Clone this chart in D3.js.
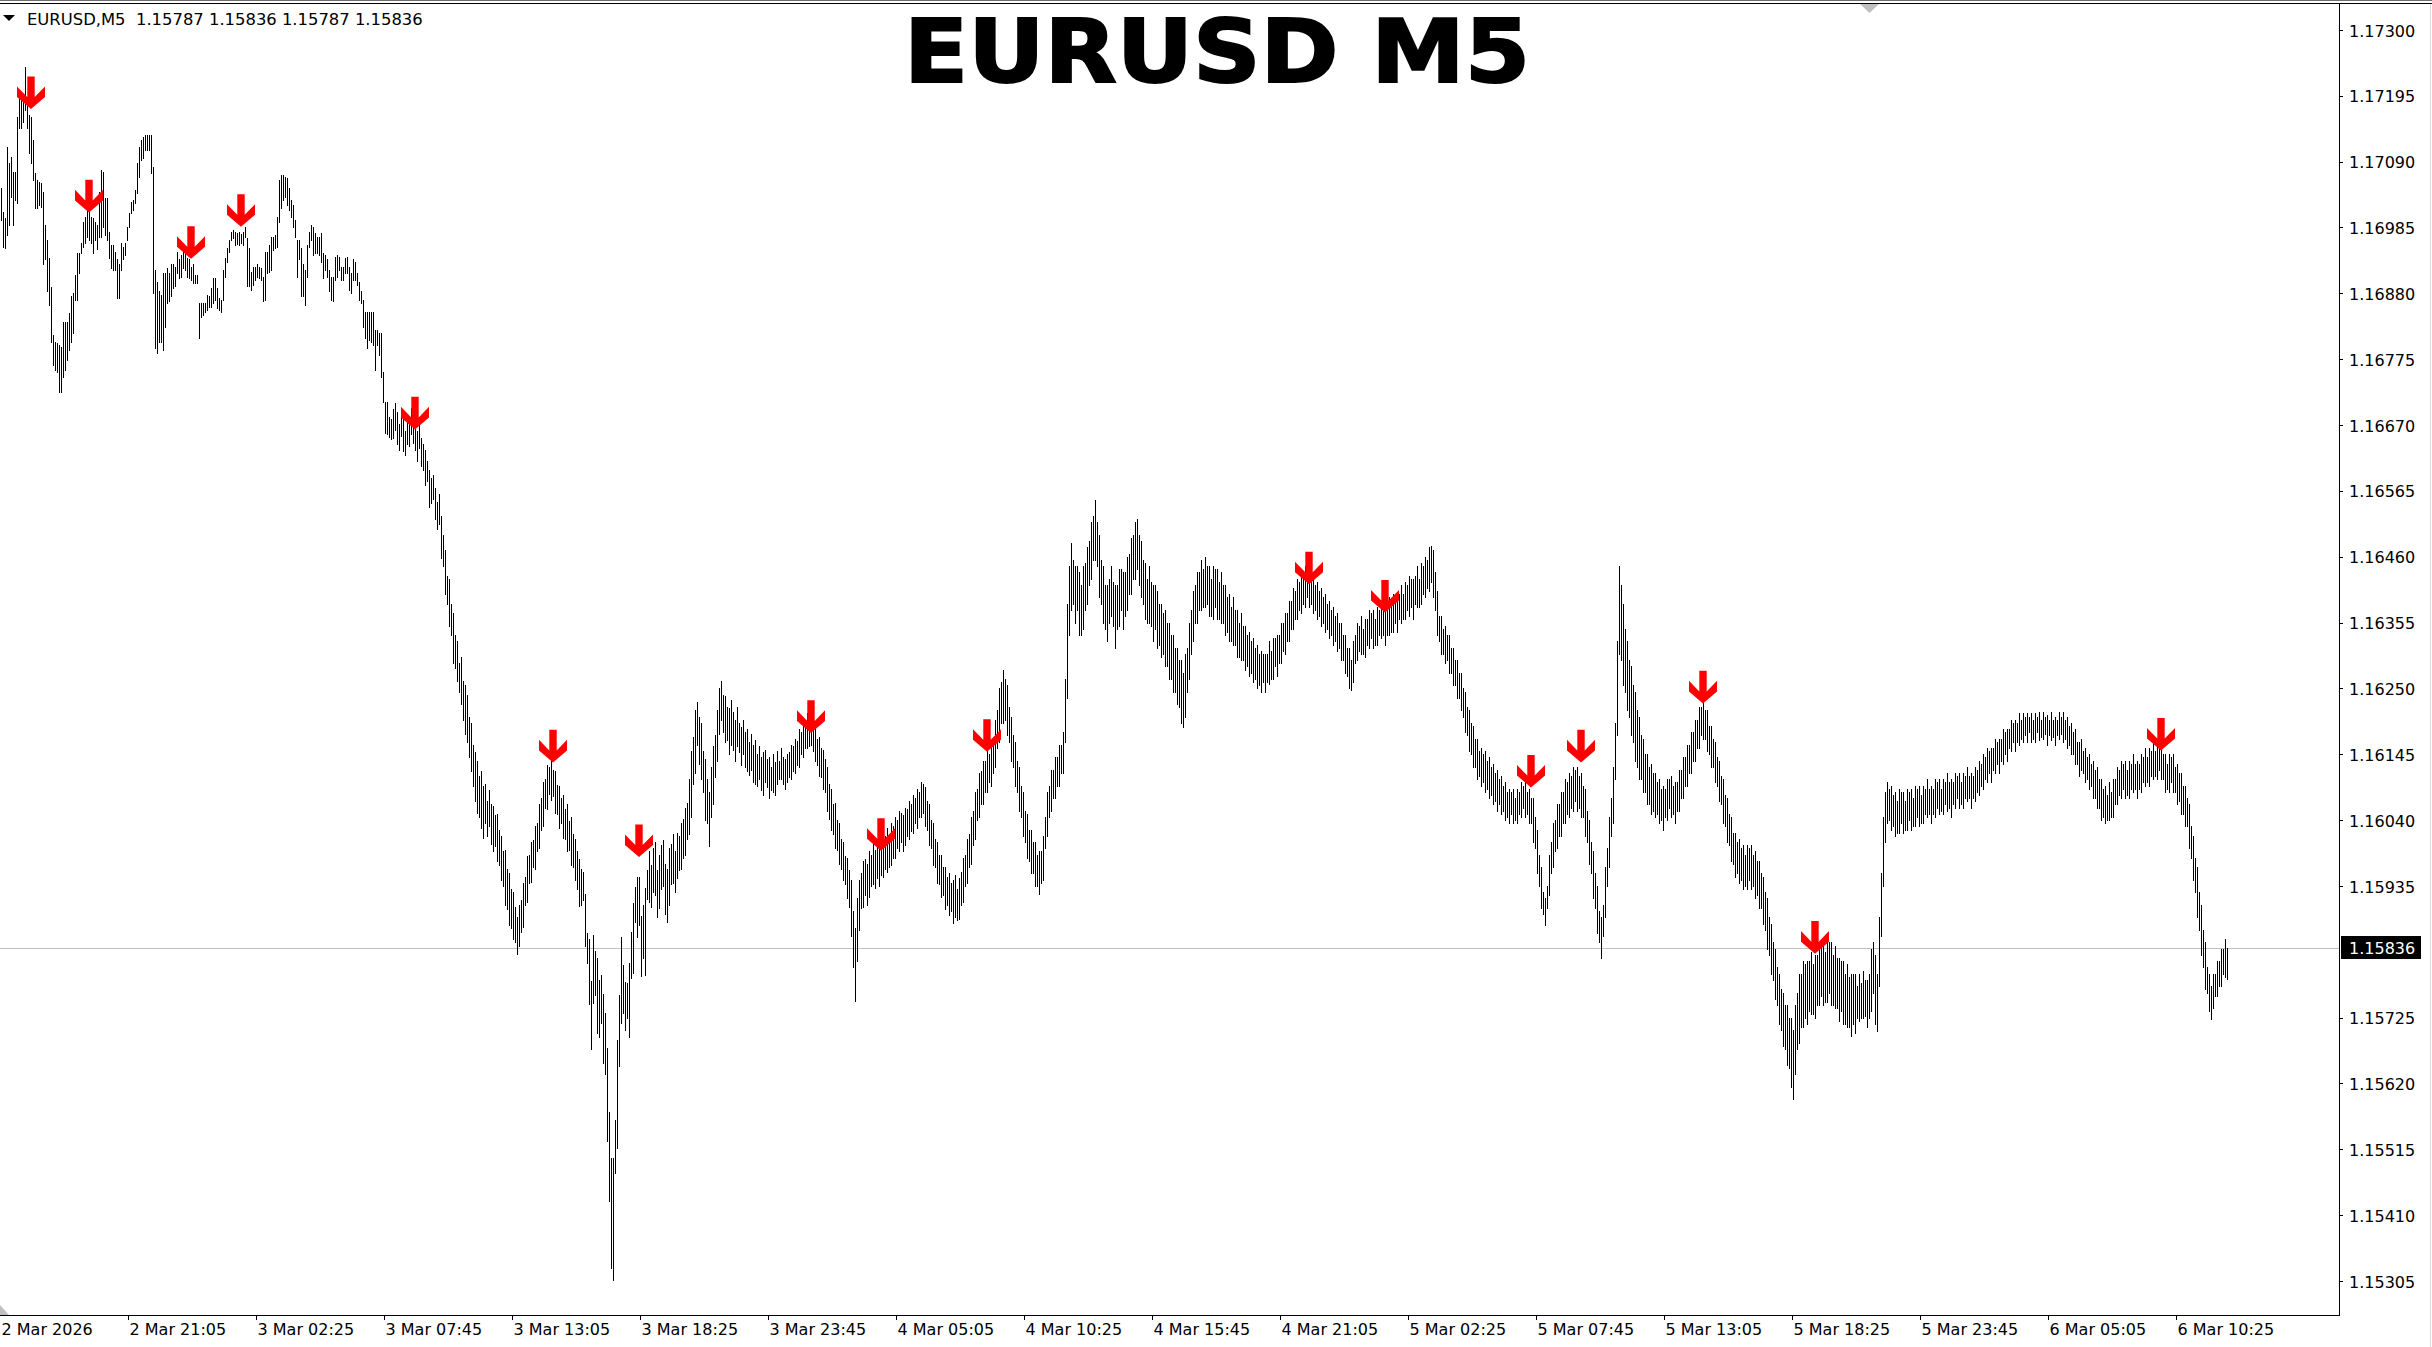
<!DOCTYPE html>
<html><head><meta charset="utf-8">
<script src="https://cdn.jsdelivr.net/npm/d3@7/dist/d3.min.js"></script>
<style>html,body{margin:0;padding:0;background:#fff;overflow:hidden}</style>
</head><body>
<script>
// ---------------- DATA ----------------
const symbolText = "EURUSD,M5";
const headerPrices = ["1.15787", "1.15836", "1.15787", "1.15836"];
const titleText = "EURUSD M5";
const timeLabels = ["2 Mar 2026","2 Mar 21:05","3 Mar 02:25","3 Mar 07:45","3 Mar 13:05","3 Mar 18:25","3 Mar 23:45","4 Mar 05:05","4 Mar 10:25","4 Mar 15:45","4 Mar 21:05","5 Mar 02:25","5 Mar 07:45","5 Mar 13:05","5 Mar 18:25","5 Mar 23:45","6 Mar 05:05","6 Mar 10:25"];
const priceTicks = [1.17300,1.17195,1.17090,1.16985,1.16880,1.16775,1.16670,1.16565,1.16460,1.16355,1.16250,1.16145,1.16040,1.15935,1.15725,1.15620,1.15515,1.15410,1.15305];
const lastPrice = 1.15836;
const basePrice = 1.15000;   // bar values below are in points (0.00001) above basePrice
const highPts = [2048,2010,2000,2114,2088,2098,2074,2074,2161,2193,2197,2193,2241,2192,2165,2161,2125,2072,2061,2058,
2056,2042,1989,1965,1937,1890,1814,1803,1801,1798,1795,1835,1835,1835,1849,1875,1881,1910,1945,1945,
1961,1993,2002,2016,2010,2002,2000,1994,1989,2042,2077,2074,2032,2032,1978,1957,1957,1946,1934,1926,
1961,1954,1961,1986,2008,2026,2029,2045,2088,2114,2125,2130,2133,2133,2133,2133,2082,1918,1898,1883,
1878,1913,1913,1921,1913,1926,1926,1922,1946,1934,1941,1953,1949,1937,1934,1922,1926,1910,1910,1865,
1865,1865,1865,1878,1875,1889,1905,1905,1889,1873,1870,1918,1937,1953,1965,1978,1981,1978,1977,1978,
1975,1978,1985,1969,1953,1914,1922,1922,1926,1922,1921,1906,1946,1946,1957,1970,1970,1973,2002,2061,
2069,2069,2066,2064,2048,2029,2021,1997,1965,1965,1953,1926,1918,1957,1978,1989,1986,1977,1970,1970,
1977,1945,1941,1934,1918,1906,1906,1938,1941,1938,1922,1922,1937,1938,1922,1913,1934,1930,1913,1898,
1883,1870,1851,1851,1851,1851,1851,1822,1822,1817,1817,1755,1707,1706,1683,1679,
1695,1705,1690,1672,1688,1680,1660,1684,1678,1697,
1688,1668,1660,1675,1650,1640,1630,1612,1598,1585,
1590,1570,1548,1560,1525,1495,1470,1430,1425,1385,
1370,1335,1325,1290,1300,1262,1255,1240,1205,1195,
1160,1148,1135,1110,1118,1095,1098,1070,1088,1066,
1062,1048,1050,1025,1015,990,992,962,955,930,
925,902,885,905,912,940,950,982,985,1005,
1008,1030,1036,1066,1075,1100,1105,1128,1125,1138,
1120,1118,1096,1095,1075,1080,1058,1065,1038,1045,
1018,1010,990,978,962,958,
922,860,851,784,857,832,820,785,793,763,733,677,575,501,501,562,690,761,854,809,782,780,812,862,908,934,950,950,887,905,932,960,
990,968,995,1005,960,985,1000,1008,970,962,
995,1002,1018,990,1020,1015,1035,1042,1060,1068,
1105,1150,1172,1215,1228,1205,1195,1150,1138,1105,
1085,1125,1158,1175,1215,1250,1262,1240,1238,1220,
1218,1232,1212,1200,1220,1195,1188,1200,1180,1185,
1165,1178,1160,1168,1145,1158,1140,1148,1152,1138,
1140,1125,1145,1132,1150,1135,1155,1140,1138,1145,
1148,1160,1158,1170,1166,1185,1180,1195,1198,1210,
1190,1212,1195,1188,1170,1172,1155,1152,1138,1125,
1098,1090,1065,1068,1040,1035,1010,1005,982,980,
960,945,895,868,915,945,955,975,978,970,
990,985,1005,992,1008,998,1012,1018,1015,1028,
1012,1035,1030,1045,1040,1055,1052,1048,1060,1058,
1070,1066,1080,1076,1090,1085,1100,1098,1092,1070,
1065,1040,1035,1010,1005,985,985,965,965,950,
955,940,945,952,930,948,958,980,985,1010,
1018,1045,1055,1085,1090,1115,1118,1135,1135,1150,
1145,1165,1170,1200,1215,1250,1260,1280,1265,1255,
1220,1205,1175,1165,1135,1125,1095,1085,1055,1050,
1025,1025,1005,1005,985,990,990,1015,1045,1085,
1095,1120,1120,1140,1140,1160,1160,1180,1265,1385,
1445,1482,1455,1445,1445,1435,1415,1445,1450,1475,
1485,1515,1525,1550,1515,1495,1455,1445,1415,1415,
1425,1445,1420,1415,1415,1440,1440,1435,1435,1460,
1465,1490,1495,1515,1520,1495,1485,1455,1450,1425,
1445,1420,1415,1415,1405,1385,1385,1370,1375,1355,
1355,1335,1335,1315,1315,1295,1295,1275,1305,1315,
1355,1375,1405,1415,1435,1435,1455,1440,1460,1445,
1445,1425,1445,1440,1440,1420,1435,1415,1415,1395,
1400,1380,1395,1375,1375,1355,1370,1350,1350,1335,
1340,1325,1330,1315,1320,1305,1310,1305,1305,1305,
1325,1310,1330,1330,1335,1335,1355,1355,1370,1370,
1390,1390,1410,1405,1425,1420,1435,1430,1445,1440,
1445,1425,1430,1415,1420,1405,1410,1395,1400,1385,
1390,1375,1380,1365,1370,1355,1355,1335,1335,1315,
1315,1295,1325,1335,1355,1350,1365,1345,1360,1360,
1375,1370,1375,1360,1380,1375,1390,1375,1380,1375,
1395,1380,1400,1395,1400,1400,1415,1400,1420,1415,
1430,1425,1425,1430,1445,1425,1450,1445,1460,1455,
1475,1477,1470,1435,1405,1365,1365,1345,1350,1335,
1335,1315,1315,1295,1295,1275,1275,1250,1245,1220,
1215,1195,1190,1170,1170,1150,1155,1145,1150,1135,
1140,1125,1130,1115,1120,1105,1110,1095,1100,1085,
1090,1085,1090,1075,1090,1085,1100,1095,1100,1085,
1090,1075,1075,1045,1025,985,965,925,915,935,
985,1005,1035,1040,1065,1065,1085,1085,1105,1100,
1115,1110,1125,1120,1125,1110,1115,1095,1090,1055,
1040,1005,990,955,935,895,885,905,965,995,
1045,1075,1125,1195,1325,1445,1415,1385,1345,1325,
1295,1285,1255,1245,1215,1205,1175,1170,1145,1145,
1125,1130,1115,1115,1100,1105,1090,1095,1090,1105,
1105,1110,1095,1100,1100,1120,1120,1140,1140,1160,
1160,1180,1180,1200,1200,1220,1220,1232,1215,1215,
1190,1190,1170,1165,1140,1135,1110,1105,1080,1075,
1050,1045,1020,1020,1005,1010,995,1000,985,1000,
995,1000,985,990,975,975,955,950,925,915,
885,875,845,835,805,795,770,765,745,745,
725,725,705,745,765,795,795,815,810,815,
815,830,810,825,825,845,840,845,830,850,
845,845,825,840,820,820,815,815,795,810,
790,795,795,795,775,795,780,800,785,785,
795,835,845,825,795,885,955,1045,1085,1100,
1090,1095,1080,1085,1070,1090,1085,1085,1070,1090,
1085,1090,1075,1095,1090,1095,1080,1095,1090,1105,
1090,1095,1090,1105,1100,1105,1090,1105,1100,1115,
1100,1105,1100,1115,1110,1115,1100,1115,1110,1125,
1110,1115,1110,1125,1120,1135,1130,1145,1140,1155,
1150,1155,1155,1170,1165,1170,1170,1185,1180,1185,
1185,1200,1195,1200,1195,1210,1200,1210,1205,1210,
1205,1210,1200,1210,1205,1212,1200,1212,1205,1208,
1200,1212,1200,1205,1200,1212,1205,1212,1200,1205,
1190,1195,1180,1185,1165,1165,1170,1150,1155,1140,
1145,1130,1135,1120,1125,1105,1105,1090,1095,1080,
1100,1085,1105,1105,1125,1120,1135,1130,1135,1120,
1135,1130,1145,1130,1135,1130,1145,1140,1155,1140,
1155,1150,1165,1150,1165,1160,1165,1145,1145,1130,
1145,1140,1145,1125,1130,1115,1115,1095,1095,1075,
1065,1030,1015,980,965,925,905,865,845,805,
795,775,795,795,815,815,835,835,850,836];
const lowPts = [1997,1954,1953,1973,1989,2034,1989,2029,2024,2144,2144,2153,2173,2144,2104,2088,2061,2016,2016,2021,
2018,1926,1934,1883,1862,1803,1766,1758,1755,1722,1722,1747,1758,1774,1790,1803,1817,1870,1870,1913,
1945,1954,1961,1970,1965,1961,1945,1965,1950,1970,1970,1986,1973,1965,1937,1921,1918,1918,1873,1873,
1918,1934,1941,1965,1986,2008,2013,2024,2040,2066,2093,2096,2109,2109,2109,2072,1881,1793,1785,1803,
1803,1790,1827,1865,1867,1875,1889,1891,1913,1905,1906,1921,1918,1906,1905,1902,1897,1897,1897,1809,
1843,1846,1851,1854,1859,1859,1865,1870,1857,1854,1851,1870,1906,1930,1946,1965,1969,1957,1959,1957,
1961,1957,1970,1891,1891,1886,1894,1902,1906,1905,1902,1867,1870,1913,1914,1918,1949,1953,1954,1994,
2016,2029,2034,2021,2013,2002,1986,1970,1906,1934,1875,1875,1862,1906,1954,1965,1941,1945,1945,1941,
1930,1905,1918,1906,1883,1870,1867,1902,1906,1918,1902,1902,1913,1913,1886,1881,1902,1902,1894,1870,
1865,1827,1809,1793,1806,1803,1798,1758,1798,1782,1747,1706,1658,1655,1651,1647,
1650,1662,1640,1630,1652,1628,1622,1640,1636,1655,
1642,1630,1612,1634,1605,1598,1575,1580,1540,1545,
1552,1520,1505,1512,1458,1445,1400,1385,1350,1335,
1290,1282,1262,1245,1225,1200,1178,1165,1140,1118,
1095,1070,1052,1045,1028,1012,1035,1015,1030,1002,
990,998,975,968,945,935,905,898,872,868,
850,845,826,840,862,870,905,910,940,942,
965,962,990,995,1025,1030,1060,1058,1082,1072,
1078,1052,1050,1028,1035,1012,1010,990,992,968,
965,945,930,903,905,913,
839,812,747,675,748,761,701,694,717,653,635,528,433,326,307,477,517,648,717,733,705,725,694,788,796,878,854,873,792,820,793,914,
910,902,925,920,885,900,930,935,890,878,
905,938,940,925,948,960,962,980,985,1010,
1018,1045,1098,1115,1160,1130,1105,1085,1040,1035,
998,1045,1065,1108,1135,1178,1200,1180,1165,1168,
1145,1160,1152,1135,1158,1148,1128,1145,1125,1118,
1112,1120,1100,1098,1095,1105,1088,1080,1100,1092,
1075,1088,1085,1080,1098,1105,1105,1098,1090,1100,
1108,1105,1118,1115,1128,1125,1145,1140,1155,1155,
1158,1160,1150,1135,1128,1110,1108,1090,1085,1055,
1042,1025,1018,995,992,970,962,945,938,915,
902,855,805,752,815,865,900,902,920,905,
918,935,938,932,948,935,952,950,962,958,
965,968,980,980,995,990,1005,990,1000,1015,
1010,1022,1020,1035,1028,1045,1045,1052,1030,1025,
1000,995,968,965,940,938,918,920,898,905,
888,895,876,885,880,882,905,910,935,940,
965,970,1000,1010,1040,1045,1065,1065,1085,1085,
1100,1095,1115,1125,1155,1165,1195,1195,1200,1175,
1165,1135,1125,1095,1085,1055,1045,1015,1005,980,
975,955,955,935,935,922,940,945,995,1015,
1045,1055,1075,1075,1095,1095,1115,1115,1165,1235,
1335,1375,1385,1355,1375,1335,1335,1345,1375,1385,
1415,1425,1455,1455,1445,1395,1385,1355,1345,1325,
1355,1365,1350,1315,1345,1350,1375,1345,1365,1375,
1400,1400,1425,1425,1440,1415,1395,1385,1360,1355,
1355,1350,1325,1345,1315,1320,1300,1305,1285,1285,
1265,1265,1245,1245,1225,1220,1195,1188,1205,1245,
1265,1305,1325,1355,1355,1375,1375,1380,1380,1385,
1365,1365,1360,1380,1360,1360,1355,1355,1335,1340,
1325,1325,1320,1320,1300,1300,1295,1295,1280,1285,
1270,1275,1260,1265,1250,1255,1245,1260,1245,1260,
1257,1265,1265,1285,1270,1290,1290,1310,1305,1325,
1325,1345,1345,1360,1360,1375,1370,1385,1380,1395,
1380,1385,1370,1375,1360,1365,1350,1355,1340,1345,
1330,1335,1320,1325,1310,1315,1295,1295,1275,1270,
1250,1248,1260,1290,1295,1310,1305,1305,1300,1320,
1315,1330,1315,1320,1320,1335,1330,1335,1320,1335,
1335,1340,1340,1355,1340,1360,1355,1360,1360,1375,
1365,1380,1360,1385,1380,1380,1385,1400,1395,1410,
1405,1420,1395,1375,1335,1325,1305,1305,1290,1295,
1275,1275,1255,1255,1235,1235,1215,1205,1180,1175,
1150,1145,1125,1125,1105,1110,1095,1100,1085,1090,
1075,1080,1065,1070,1055,1065,1050,1055,1040,1045,
1035,1050,1035,1040,1035,1050,1045,1060,1045,1050,
1035,1035,1005,995,955,935,900,890,872,900,
920,955,965,990,995,1015,1015,1035,1035,1050,
1045,1060,1055,1070,1055,1060,1045,1045,1015,1005,
970,955,915,900,860,845,820,855,885,935,
965,1015,1035,1105,1175,1305,1295,1255,1245,1215,
1205,1175,1165,1135,1125,1105,1105,1085,1085,1065,
1065,1050,1055,1045,1050,1035,1040,1025,1045,1040,
1060,1045,1050,1035,1055,1055,1075,1075,1095,1095,
1115,1115,1135,1135,1155,1155,1175,1170,1170,1150,
1145,1125,1125,1100,1095,1070,1065,1035,1030,1005,
1000,975,970,950,955,940,945,930,935,930,
945,930,935,915,920,900,900,875,865,835,
825,795,785,755,745,715,705,680,675,650,
645,615,596,635,675,685,710,710,725,715,
735,730,730,725,745,745,760,745,750,750,
765,745,745,740,740,720,735,715,715,710,
710,695,715,700,725,720,725,725,727,710,
725,735,765,715,703,775,855,935,1005,1035,
1040,1025,1030,1015,1020,1020,1035,1020,1025,1025,
1040,1025,1030,1030,1045,1030,1035,1035,1050,1045,
1050,1035,1050,1045,1060,1050,1055,1050,1065,1055,
1060,1045,1065,1060,1075,1060,1065,1060,1075,1070,
1075,1060,1075,1070,1085,1080,1095,1090,1105,1100,
1115,1100,1120,1115,1130,1115,1135,1130,1145,1135,
1155,1150,1165,1150,1165,1160,1170,1165,1175,1165,
1180,1165,1170,1165,1180,1168,1172,1170,1178,1160,
1175,1168,1172,1160,1175,1170,1178,1165,1170,1155,
1160,1145,1145,1130,1130,1110,1120,1115,1100,1105,
1090,1095,1075,1075,1060,1060,1040,1045,1035,1040,
1040,1045,1045,1065,1065,1080,1075,1090,1075,1080,
1075,1090,1085,1090,1075,1090,1085,1100,1095,1100,
1095,1110,1105,1110,1105,1120,1105,1105,1085,1090,
1085,1100,1085,1085,1065,1070,1050,1050,1030,1030,
995,980,945,925,885,865,825,805,770,765,
735,723,740,760,760,775,775,795,790,787];
const arrowBars = [15,44,95,120,207,276,319,405,440,493,654,692,765,790,851,907,1080];
const arrowPts  = [2174,2009,1935,1986,1663,1132,981,1179,991,1149,1416,1371,1092,1132,1226,827,1151];

// ---------------- CHART ----------------
const W = 2432, H = 1347;
const plotRight = 2339, plotTop = 3, plotBottom = 1315;
const FONT = "'DejaVu Sans', Verdana, sans-serif";

const svg = d3.select("body").append("svg").attr("width", W).attr("height", H)
  .style("display", "block").style("background", "#fff");

const x = d3.scaleLinear().domain([0, 1169]).range([1, 2339]);
const y = d3.scaleLinear().domain([1.152508, 1.17343]).range([plotBottom, plotTop]);

const n = Math.min(highPts.length, lowPts.length);
const bars = d3.range(n).map(i => ({ i, high: basePrice + Math.max(highPts[i], lowPts[i]) / 1e5, low: basePrice + Math.min(highPts[i], lowPts[i]) / 1e5 }));

// window top lines and right edge
svg.append("line").attr("x1", 0).attr("x2", W).attr("y1", 0.5).attr("y2", 0.5).attr("stroke", "#6e6e6e");
svg.append("line").attr("x1", 0).attr("x2", W).attr("y1", 3.5).attr("y2", 3.5).attr("stroke", "#000");
svg.append("line").attr("x1", W - 1.5).attr("x2", W - 1.5).attr("y1", 4).attr("y2", H).attr("stroke", "#d8d8d8");

// current price line
svg.append("line").attr("x1", 0).attr("x2", plotRight).attr("y1", Math.round(y(lastPrice)) + 0.5).attr("y2", Math.round(y(lastPrice)) + 0.5)
  .attr("stroke", "#c0c0c0");

// bars
svg.append("g").attr("shape-rendering", "crispEdges").selectAll("rect").data(bars).join("rect")
  .attr("x", d => Math.round(x(d.i)))
  .attr("y", d => Math.round(y(d.high)))
  .attr("width", 1)
  .attr("height", d => Math.max(1, Math.round(y(d.low)) - Math.round(y(d.high)) + 1))
  .attr("fill", "#000");

// arrows (tip at given price)
const arrowShape = [[-3.7,-32.6],[3.7,-32.6],[3.7,-12],[14,-22.6],[14,-12],[0,0],[-14,-12],[-14,-22.6],[-3.7,-12]];
svg.append("g").selectAll("path").data(arrowBars.map((b, k) => ({ b, p: basePrice + arrowPts[k] / 1e5 }))).join("path")
  .attr("d", d => "M" + arrowShape.map(([dx, dy]) => [x(d.b) + dx, y(d.p) + dy].join(",")).join("L") + "Z")
  .attr("fill", "#ff0000");

// frame
svg.append("line").attr("x1", plotRight + 0.5).attr("x2", plotRight + 0.5).attr("y1", plotTop).attr("y2", plotBottom + 1).attr("stroke", "#000");
svg.append("line").attr("x1", 0).attr("x2", plotRight + 1).attr("y1", plotBottom + 0.5).attr("y2", plotBottom + 0.5).attr("stroke", "#000");

// price axis
const yAxis = d3.axisRight(y).tickValues(priceTicks).tickSize(3).tickPadding(6).tickFormat(d3.format(".5f"));
const gy = svg.append("g").attr("transform", `translate(${plotRight + 1},0)`).call(yAxis);
gy.select(".domain").remove();
gy.selectAll(".tick line").attr("stroke", "#000").attr("shape-rendering", "crispEdges");
gy.selectAll(".tick text").attr("fill", "#000").style("font-family", FONT).style("font-size", "16px").attr("dy", "0.38em");

// time axis
const xAxis = d3.axisBottom(x).tickValues(d3.range(0, 1089, 64)).tickSize(4).tickFormat((d, i) => timeLabels[i]);
const gx = svg.append("g").attr("transform", `translate(-1,${plotBottom + 1})`).call(xAxis);
gx.select(".domain").remove();
gx.selectAll(".tick line").attr("stroke", "#000").attr("shape-rendering", "crispEdges").filter(d => d === 0).remove();
gx.selectAll(".tick text").attr("fill", "#000").attr("text-anchor", "start").attr("x", 1).attr("y", 8).attr("dy", "0.71em")
  .style("font-family", FONT).style("font-size", "16px");

// last price label
const ly = Math.round(y(lastPrice));
svg.append("rect").attr("x", plotRight + 2).attr("y", ly - 12).attr("width", 80).attr("height", 23).attr("fill", "#000");
svg.append("text").attr("x", plotRight + 10).attr("y", ly).attr("dy", "0.38em").attr("fill", "#fff")
  .style("font-family", FONT).style("font-size", "16px").text(d3.format(".5f")(lastPrice));

// header
svg.append("path").attr("d", "M3,15L15,15L9,21Z").attr("fill", "#000");
svg.append("text").attr("x", 27).attr("y", 25).style("font-family", FONT).style("font-size", "16.4px").attr("fill", "#000")
  .attr("xml:space", "preserve").text(symbolText + "  " + headerPrices.join(" "));

// scroll markers
svg.append("path").attr("d", "M1860,4L1879,4L1869.5,13Z").attr("fill", "#c0c0c0");
svg.append("path").attr("d", "M0,1305L9,1315L0,1315Z").attr("fill", "#c0c0c0");

// big title (kept inside the top edge)
svg.append("text").attr("x", 904).attr("y", 82).attr("text-anchor", "start")
  .attr("textLength", 626).attr("lengthAdjust", "spacingAndGlyphs")
  .style("font-family", "'DejaVu Sans', sans-serif").style("font-weight", "bold").style("font-size", "88px")
  .attr("fill", "#000").attr("stroke", "#000").attr("stroke-width", 2).text(titleText);
</script>
</body></html>
